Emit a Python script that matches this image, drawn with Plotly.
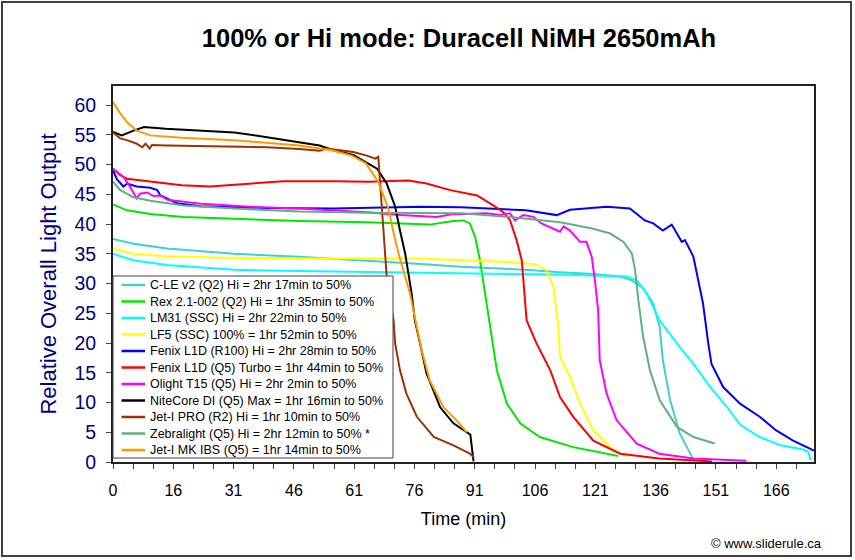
import plotly.graph_objects as go

# ---------------- data (x = sample index along Excel category axis, y = relative output) -------------
X_TICK_POS = [0, 15, 30, 45, 60, 75, 90, 105, 120, 135, 150, 165]
X_TICK_LABELS = ["0", "16", "31", "46", "61", "76", "91", "106", "121", "136", "151", "166"]

SERIES_NAMES = [
    "C-LE v2 (Q2) Hi = 2hr 17min to 50%",
    "Rex 2.1-002 (Q2) Hi = 1hr 35min to 50%",
    "LM31 (SSC) Hi = 2hr 22min to 50%",
    "LF5 (SSC) 100% = 1hr 52min to 50%",
    "Fenix L1D (R100) Hi = 2hr 28min to 50%",
    "Fenix L1D (Q5) Turbo = 1hr 44min to 50%",
    "Olight T15 (Q5) Hi = 2hr 2min to 50%",
    "NiteCore DI (Q5) Max = 1hr 16min to 50%",
    "Jet-I PRO (R2) Hi = 1hr 10min to 50%",
    "Zebralight (Q5) Hi = 2hr 12min to 50% *",
    "Jet-I MK IBS (Q5) = 1hr 14min to 50%",
]
SERIES_COLORS = ["#40D0D0", "#00E800", "#00FFFF", "#FFFF00", "#0000FF", "#FF0000",
                 "#FF00FF", "#000000", "#993300", "#5FB27F", "#FF9900"]

CLE_X = [0, 5.1, 13.4, 30.2, 46.3, 63.1, 76.5, 86.6, 102.7, 111.2, 119.5, 125.9, 128.9, 131.9, 134.4, 136.0, 136.8, 138.6, 141.0, 144.4]
CLE_Y = [37.5, 36.7, 35.9, 35.0, 34.5, 33.9, 33.3, 32.8, 32.3, 31.9, 31.6, 31.2, 30.6, 29.2, 26.6, 22.7, 17.1, 10.4, 4.8, 0.4]

REX_X = [0, 3.5, 9.3, 17.5, 30.2, 46.3, 63.1, 73.9, 78.8, 84.7, 87.2, 88.8, 90.1, 91.3, 92.6, 93.8, 95.5, 98.0, 101.3, 106.2, 114.5, 125.7]
REX_Y = [43.3, 42.3, 41.7, 41.2, 40.9, 40.5, 40.3, 40.1, 39.9, 40.5, 40.6, 40.1, 37.8, 33.9, 28.3, 22.7, 15.4, 9.8, 6.5, 4.2, 2.5, 1.0]

LM31_X = [0, 5.1, 13.4, 30.2, 46.3, 76.5, 86.6, 110.8, 127.9, 130.3, 132.8, 136.0, 141.0, 144.4, 148.6, 152.8, 156.1, 160.9, 166.1, 171.7, 173.0, 173.5]
LM31_Y = [35.0, 33.9, 33.1, 32.3, 32.1, 31.8, 31.8, 31.5, 31.2, 30.5, 28.3, 23.8, 19.3, 16.5, 12.6, 9.2, 6.2, 4.2, 2.8, 2.1, 1.7, 0.3]

LF5_X = [0, 5.1, 13.4, 30.2, 46.3, 76.5, 86.6, 98.7, 105.4, 107.7, 109.6, 110.8, 111.2, 113.7, 116.2, 119.5, 124.5, 127.9]
LF5_Y = [35.9, 35.0, 34.6, 34.3, 34.2, 34.2, 33.9, 33.6, 33.2, 32.3, 29.4, 22.7, 17.6, 14.3, 9.8, 5.3, 2.0, 1.0]

R100_X = [0, 1, 2.6, 3.5, 5.9, 9.3, 11.0, 11.8, 13.4, 15.9, 21.8, 38.3, 54.9, 76.5, 86.6, 102.7, 110.4, 113.7, 122.8, 128.6,
          132.3, 134.4, 136.8, 139.0, 141.5, 142.3, 144.4, 146.8, 148.1, 148.9, 151.8, 156.0, 160.9, 165.0, 169.2, 174.4]
R100_Y = [49.0, 47.5, 46.3, 46.8, 46.3, 46.1, 45.7, 44.8, 44.3, 43.5, 43.0, 42.7, 42.6, 42.9, 42.8, 42.3, 41.5, 42.4, 42.9, 42.6,
          40.6, 40.1, 38.9, 39.9, 37.0, 37.3, 34.5, 26.6, 19.9, 16.5, 12.6, 9.8, 7.6, 5.3, 3.6, 1.9]

Q5T_X = [0, 1.8, 3.5, 9.3, 17.1, 24.2, 34.2, 42.3, 55.4, 63.4, 73.5, 78.0, 83.9, 90.6, 94.7, 97.1, 98.8, 100.4, 101.7, 102.9,
         105.4, 108.8, 111.2, 114.5, 119.5, 126.2, 135.9, 143.0, 149.0]
Q5T_Y = [49.3, 48.2, 47.6, 47.1, 46.5, 46.3, 46.8, 47.2, 47.2, 47.1, 47.3, 46.8, 45.7, 44.8, 43.1, 42.0, 40.6, 37.3, 33.9, 23.8,
         19.9, 15.4, 10.9, 7.6, 3.6, 1.4, 0.6, 0.3, 0.1]

T15_X = [0, 2.6, 4.3, 5.9, 6.7, 8.5, 10.1, 11.8, 13.4, 21.8, 34.2, 46.3, 63.1, 71.5, 80.6, 83.9, 92.9, 96.3, 98.8, 100.0,
         102.1, 104.6, 106.6, 111.2, 112.1, 113.7, 116.2, 117.8, 119.1, 119.9, 120.7, 121.1, 122.8, 125.3, 130.3, 135.9, 144.4, 157.6]
T15_Y = [49.3, 47.9, 46.2, 44.3, 45.1, 45.3, 44.7, 44.8, 44.1, 43.4, 42.9, 42.6, 42.0, 41.5, 41.2, 41.6, 41.8, 41.5, 41.8, 40.6,
         41.5, 41.2, 40.1, 38.7, 39.6, 38.9, 37.0, 37.0, 34.5, 30.5, 25.5, 17.1, 11.5, 7.0, 3.1, 1.4, 0.6, 0.2]

DI_X = [0, 2.2, 5.1, 7.7, 13.1, 22.2, 30.2, 38.3, 46.3, 51.4, 54.8, 59.8, 63.4, 65.7, 68.1, 70.2, 71.4, 72.7, 74.3, 75.1,
        76.4, 78.0, 81.4, 84.7, 88.9, 89.7]
DI_Y = [55.5, 54.9, 55.7, 56.3, 56.0, 55.7, 55.4, 54.6, 53.8, 53.2, 52.4, 51.6, 50.2, 49.3, 46.8, 42.9, 38.9, 35.0, 28.3, 23.8,
        19.9, 14.9, 9.2, 6.5, 4.6, 0.1]

PRO_X = [0, 1.8, 3.5, 5.9, 7.3, 8.1, 9.1, 9.7, 13.4, 21.8, 30.2, 38.3, 46.3, 51.4, 53.2, 56.4, 59.8, 63.1, 65.3, 66.0,
         66.5, 67.2, 67.7, 68.1, 69.8, 70.2, 71.4, 73.0, 75.6, 79.8, 84.7, 88.8, 89.8]
PRO_Y = [55.4, 54.4, 54.1, 53.5, 52.9, 53.5, 52.7, 53.3, 53.2, 53.1, 52.9, 52.9, 52.6, 52.3, 52.7, 52.4, 52.1, 51.5, 51.0, 51.3,
         46.2, 40.1, 33.9, 31.1, 23.8, 19.9, 15.4, 11.5, 7.6, 4.2, 2.8, 1.4, 0.8]

ZEB_X = [0, 1.8, 5.1, 9.3, 17.5, 30.2, 46.3, 63.1, 86.6, 98.7, 111.2, 119.5, 123.7, 127.0, 129.1, 129.9, 130.7, 131.9,
         133.6, 136.0, 140.3, 144.4, 149.7]
ZEB_Y = [47.1, 45.7, 44.5, 43.9, 43.1, 42.6, 42.1, 41.9, 41.8, 41.2, 40.3, 39.2, 38.4, 37.0, 35.0, 32.2, 27.2, 21.0,
         15.4, 10.4, 5.9, 4.2, 3.1]

MK_X = [0, 1.8, 3.5, 5.9, 9.3, 17.1, 30.2, 38.3, 46.3, 54.4, 59.4, 62.9, 66.0, 68.5, 70.2, 71.5, 73.9, 75.6, 76.8, 78.8,
        82.2, 85.5, 88.0]
MK_Y = [60.5, 58.6, 57.1, 55.7, 54.9, 54.5, 54.1, 53.6, 53.2, 52.4, 51.5, 50.2, 47.1, 42.6, 37.3, 33.9, 28.3, 22.7, 18.8, 13.7,
        9.2, 7.0, 5.0]

SERIES_X = [CLE_X, REX_X, LM31_X, LF5_X, R100_X, Q5T_X, T15_X, DI_X, PRO_X, ZEB_X, MK_X]
SERIES_Y = [CLE_Y, REX_Y, LM31_Y, LF5_Y, R100_Y, Q5T_Y, T15_Y, DI_Y, PRO_Y, ZEB_Y, MK_Y]

# ---------------- layout constants (pixels) ----------------
W, H = 855, 560
L, R, T, B = 113, 41, 86, 98
PW, PH = W - L - R, H - T - B
FONT = "Liberation Sans, Arial, sans-serif"
NAVY = "#000080"


def px(xp):
    return (xp - L) / PW


def py(yp):
    return (T + PH - yp) / PH


fig = go.Figure()
for name, color, xs, ys in zip(SERIES_NAMES, SERIES_COLORS, SERIES_X, SERIES_Y):
    fig.add_trace(go.Scatter(x=xs, y=ys, mode="lines", name=name,
                             line=dict(color=color, width=2), showlegend=False,
                             hoverinfo="name+x+y"))

shapes = []
annotations = []

# Legend box (drawn by hand to match the compact Excel legend spacing)
shapes.append(dict(type="rect", xref="paper", yref="paper",
                   x0=px(113), x1=px(393), y0=py(458), y1=py(276),
                   line=dict(color="#404040", width=1), fillcolor="white", layer="above"))
for k, (name, color) in enumerate(zip(SERIES_NAMES, SERIES_COLORS)):
    yk = 285 + 16.5 * k
    shapes.append(dict(type="line", xref="paper", yref="paper",
                       x0=px(121.5), x1=px(145), y0=py(yk), y1=py(yk),
                       line=dict(color=color, width=2.5), layer="above"))
    annotations.append(dict(xref="paper", yref="paper", x=px(147.5), y=py(yk),
                            xanchor="left", yanchor="middle", showarrow=False,
                            text=name, font=dict(family=FONT, size=12.5, color="black")))

# Outer chart frame
shapes.append(dict(type="rect", xref="paper", yref="paper",
                   x0=px(2), x1=px(851), y0=py(556), y1=py(2),
                   line=dict(color="#404040", width=2), fillcolor="rgba(0,0,0,0)", layer="above"))

# Copyright footer
annotations.append(dict(xref="paper", yref="paper", x=px(824), y=py(543),
                        xanchor="right", yanchor="middle", showarrow=False,
                        text="© www.sliderule.ca", font=dict(family=FONT, size=13, color="black")))

fig.update_layout(
    width=W, height=H,
    margin=dict(l=L, r=R, t=T, b=B, pad=0, autoexpand=False),
    paper_bgcolor="white", plot_bgcolor="white",
    font=dict(family=FONT, color="black"),
    title=dict(text="100% or Hi mode: Duracell NiMH 2650mAh",
               x=459 / W, y=1 - 38 / H, xanchor="center", yanchor="middle",
               font=dict(family=FONT, size=25.5, color="black", weight="bold")),
    shapes=shapes,
    annotations=annotations,
    showlegend=False,
)

fig.update_xaxes(
    range=[0, 174.4], automargin=False,
    tickmode="array", tickvals=X_TICK_POS, ticktext=X_TICK_LABELS,
    ticks="outside", ticklen=5, tickcolor="#444", tickwidth=1,
    minor=dict(ticks="outside", tickmode="linear", tick0=0, dtick=5, ticklen=5, tickcolor="#444", tickwidth=1),
    ticklabelstandoff=8,
    tickfont=dict(family=FONT, size=16, color="black"),
    showgrid=False, zeroline=False,
    showline=True, linecolor="#222", linewidth=2, mirror=True,
    title=dict(text="Time (min)", font=dict(family=FONT, size=18, color="black"), standoff=14),
)
fig.update_yaxes(
    range=[0, 63.2], automargin=False,
    tickmode="linear", tick0=0, dtick=5,
    ticks="outside", ticklen=5, tickcolor="#444", tickwidth=1,
    ticklabelstandoff=6,
    tickfont=dict(family=FONT, size=19.5, color=NAVY),
    showgrid=False, zeroline=False,
    showline=True, linecolor="#222", linewidth=2, mirror=True,
    title=dict(text="Relative Overall Light Output", font=dict(family=FONT, size=22, color=NAVY), standoff=12),
)

# remove the default 8px page margin so the figure fills the window exactly
fig.write_html("out.html", config={"displayModeBar": False},
               post_script="document.body.style.margin='0';")
